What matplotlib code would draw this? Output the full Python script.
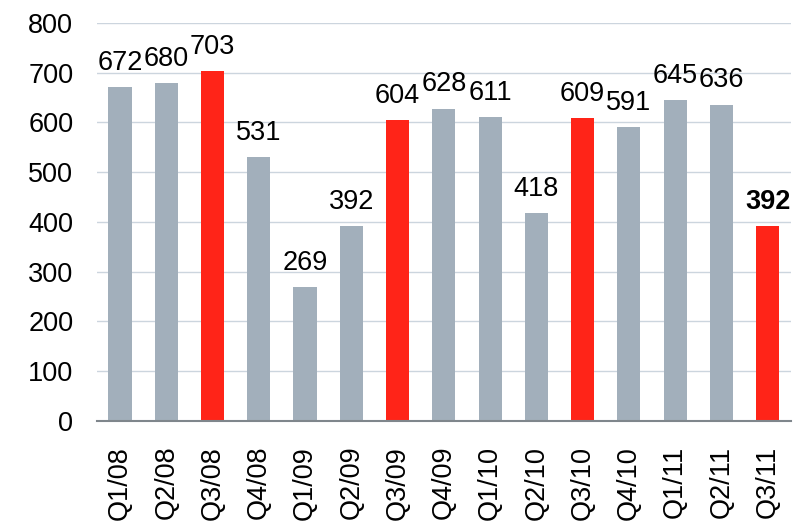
import matplotlib
matplotlib.use("Agg")
import matplotlib.pyplot as plt

quarters = ["Q1/08", "Q2/08", "Q3/08", "Q4/08", "Q1/09", "Q2/09", "Q3/09", "Q4/09",
            "Q1/10", "Q2/10", "Q3/10", "Q4/10", "Q1/11", "Q2/11", "Q3/11"]
values = [672, 680, 703, 531, 269, 392, 604, 628, 611, 418, 609, 591, 645, 636, 392]
highlight = ["Q3/08", "Q3/09", "Q3/10", "Q3/11"]

GRAY = "#a2afbb"
RED = "#ff2418"

plt.rcParams["font.family"] = ["Liberation Sans", "DejaVu Sans"]

fig = plt.figure(figsize=(7.94, 5.24), dpi=100)
ax = fig.add_axes([0.122, 0.197, 0.874, 0.759])

colors = [RED if q in highlight else GRAY for q in quarters]
x = range(len(quarters))
bars = ax.bar(x, values, width=0.5, color=colors, zorder=3)

for i, (b, v) in enumerate(zip(bars, values)):
    ax.annotate(str(v), (b.get_x() + b.get_width() / 2, v),
                xytext=(0, 8), textcoords="offset points",
                ha="center", va="bottom", fontsize=19.5,
                fontweight="bold" if i == len(values) - 1 else "normal")

ax.set_xlim(-0.5, len(quarters) - 0.5)
ax.set_ylim(0, 800)
ax.set_yticks(range(0, 801, 100))
ax.set_xticks(list(x))
ax.set_xticklabels(quarters, rotation=90)
ax.tick_params(axis="both", length=0, labelsize=19.5)
ax.tick_params(axis="y", pad=17)
ax.tick_params(axis="x", pad=18)

ax.grid(axis="y", color="#ccd5de", linewidth=1.0, zorder=0)
for s in ["left", "right", "top"]:
    ax.spines[s].set_visible(False)
ax.spines["bottom"].set_color("#7f868c")
ax.spines["bottom"].set_linewidth(1.5)
ax.spines["bottom"].set_zorder(4)

fig.savefig("out.png", dpi=100)
